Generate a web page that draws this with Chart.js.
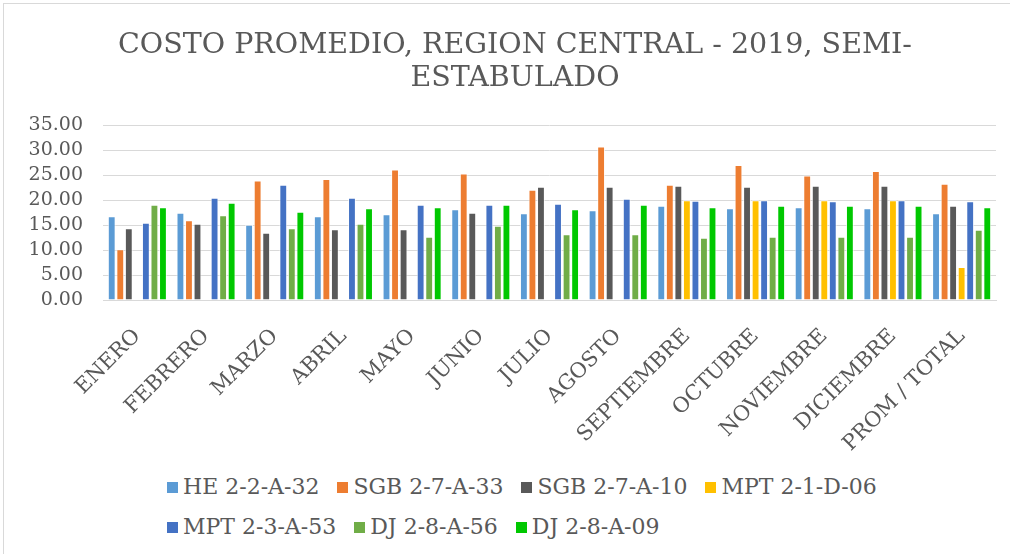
<!DOCTYPE html>
<html>
<head>
<meta charset="utf-8">
<script src="https://cdn.jsdelivr.net/npm/chart.js@4.4.1/dist/chart.umd.min.js"></script>
<style>
  html, body { margin: 0; padding: 0; background: #fff; }
  .frame { position: relative; width: 1010px; height: 554px; overflow: hidden; }
  .edge { position: absolute; left: 3px; top: 3px; right: -5px; bottom: -5px; border-left: 1px solid #d9d9d9; border-top: 1px solid #d9d9d9; }
  #chart { position: absolute; left: 0; top: 0; }
  #legend { position: absolute; left: 167px; top: 474px; width: 760px; display: flex; flex-wrap: wrap; row-gap: 14px; column-gap: 18px;
    font-family: "DejaVu Serif", serif; font-size: 22px; color: #595959; }
  .item { display: flex; align-items: center; white-space: nowrap; line-height: 26px; }
  .sw { width: 11px; height: 11px; margin-right: 5px; }
</style>
</head>
<body>
<div class="frame">
  <div class="edge"></div>
  <canvas id="chart" width="1010" height="460"></canvas>
  <div id="legend"></div>
</div>
<script>
const months = ["ENERO", "FEBRERO", "MARZO", "ABRIL", "MAYO", "JUNIO", "JULIO", "AGOSTO", "SEPTIEMBRE", "OCTUBRE", "NOVIEMBRE", "DICIEMBRE", "PROM / TOTAL"];

const he_2_2_a_32  = [16.8, 17.5, 15.1, 16.8, 17.2, 18.2, 17.4, 18.0, 18.9, 18.4, 18.6, 18.4, 17.4];
const sgb_2_7_a_33 = [10.2, 16.0, 24.0, 24.3, 26.2, 25.4, 22.1, 30.8, 23.1, 27.1, 25.0, 25.9, 23.3];
const sgb_2_7_a_10 = [14.4, 15.3, 13.5, 14.2, 14.2, 17.5, 22.7, 22.7, 22.9, 22.7, 22.9, 22.9, 18.9];
const mpt_2_1_d_06 = [null, null, null, null, null, null, null, null, 20.0, 20.0, 20.0, 20.0, 6.6];
const mpt_2_3_a_53 = [15.5, 20.5, 23.1, 20.5, 19.1, 19.1, 19.3, 20.3, 19.9, 20.0, 19.8, 20.0, 19.8];
const dj_2_8_a_56  = [19.1, 17.0, 14.4, 15.3, 12.7, 14.9, 13.2, 13.2, 12.5, 12.7, 12.7, 12.7, 14.1];
const dj_2_8_a_09  = [18.6, 19.5, 17.7, 18.4, 18.6, 19.1, 18.2, 19.1, 18.6, 18.9, 18.9, 18.9, 18.6];

const seriesNames = ["HE 2-2-A-32", "SGB 2-7-A-33", "SGB 2-7-A-10", "MPT 2-1-D-06", "MPT 2-3-A-53", "DJ 2-8-A-56", "DJ 2-8-A-09"];
const seriesData = [he_2_2_a_32, sgb_2_7_a_33, sgb_2_7_a_10, mpt_2_1_d_06, mpt_2_3_a_53, dj_2_8_a_56, dj_2_8_a_09];
const seriesColors = ["#5b9bd5", "#ed7d31", "#595959", "#ffc000", "#4472c4", "#70ad47", "#00c800"];

const yTicks = [0, 5, 10, 15, 20, 25, 30, 35];

const serif = "'DejaVu Serif', serif";
const gray = "#595959";

const chart = new Chart(document.getElementById("chart"), {
  type: "bar",
  data: {
    labels: months,
    datasets: seriesNames.map((name, i) => ({
      label: name,
      data: seriesData[i],
      backgroundColor: seriesColors[i],
      borderColor: "rgba(255,255,255,0.7)",
      borderWidth: 1,
      barPercentage: 0.92,
      categoryPercentage: 0.87,
    })),
  },
  options: {
    responsive: false,
    animation: false,
    layout: { padding: { left: 20, right: 0, top: 0, bottom: 0 } },
    plugins: {
      legend: { display: false },
      tooltip: { enabled: false },
      title: {
        display: true,
        text: ["COSTO PROMEDIO, REGION CENTRAL - 2019, SEMI-", "ESTABULADO"],
        color: gray,
        font: { family: serif, size: 28.5, weight: "normal", lineHeight: 1.15 },
        padding: { top: 29, bottom: 31 },
      },
    },
    scales: {
      y: {
        min: 0,
        max: 35,
        afterBuildTicks: (s) => { s.ticks = yTicks.map((v) => ({ value: v })); },
        afterFit: (s) => { s.width = 83; },
        border: { display: false },
        grid: { color: "#d9d9d9", drawTicks: false },
        ticks: { color: gray, autoSkip: false, padding: 20, font: { family: serif, size: 19 }, callback: (v) => v.toFixed(2) },
      },
      // empty right-hand gutter so the plot stops where the reference stops
      gutter: {
        position: "right",
        afterFit: (s) => { s.width = 14; },
        border: { display: false },
        grid: { display: false, drawTicks: false },
        ticks: { display: false },
      },
      x: {
        afterFit: (s) => { s.height = 160; },
        border: { color: "#d9d9d9" },
        grid: { display: false },
        ticks: { color: gray, autoSkip: false, minRotation: 45, maxRotation: 45, padding: 16, font: { family: serif, size: 21 } },
      },
    },
  },
});

document.getElementById("legend").innerHTML = chart.data.datasets
  .map((d) => `<div class="item"><span class="sw" style="background:${d.backgroundColor}"></span>${d.label}</div>`)
  .join("");
</script>
</body>
</html>
